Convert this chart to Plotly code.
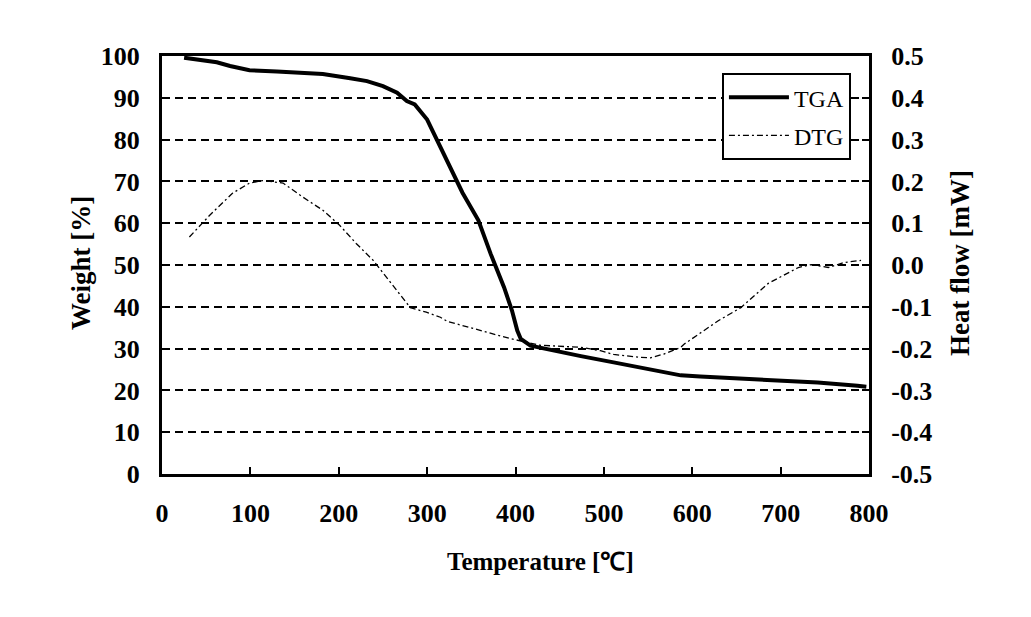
import plotly.graph_objects as go

# ---- data ----
tga_temp = [25, 46, 62, 77, 99, 130, 156, 182, 213, 232, 250, 266, 277, 286, 300, 311,
            326, 340, 358, 372, 387, 396, 402, 406, 417, 443, 474, 511, 550, 587, 609,
            666, 742, 787, 797]
tga_weight = [99.6, 99.0, 98.5, 97.6, 96.6, 96.3, 96.0, 95.7, 94.7, 94.0, 92.8, 91.2,
              89.2, 88.4, 84.8, 80.0, 73.1, 67.3, 60.7, 52.6, 44.7, 39.1, 34.3, 32.3,
              30.7, 29.5, 28.2, 26.7, 25.2, 23.6, 23.3, 22.7, 21.9, 21.1, 20.9]

dtg_temp = [31, 54, 80, 99, 114, 137, 159, 182, 201, 220, 239, 254, 269, 281, 299, 315,
            323, 352, 394, 428, 474, 496, 511, 542, 553, 568, 587, 591, 629, 655, 686,
            720, 735, 754, 772, 791]
dtg_flow = [0.067, 0.119, 0.172, 0.196, 0.202, 0.196, 0.163, 0.131, 0.095, 0.051, 0.011,
            -0.029, -0.069, -0.102, -0.113, -0.125, -0.135, -0.152, -0.176, -0.192,
            -0.197, -0.205, -0.214, -0.221, -0.222, -0.213, -0.197, -0.189, -0.134,
            -0.102, -0.044, -0.006, 0.001, -0.006, 0.006, 0.011]

x_ticks = [0, 100, 200, 300, 400, 500, 600, 700, 800]
y_ticks = [0, 10, 20, 30, 40, 50, 60, 70, 80, 90, 100]
y2_ticks = [-0.5, -0.4, -0.3, -0.2, -0.1, 0.0, 0.1, 0.2, 0.3, 0.4, 0.5]
y2_labels = ["-0.5", "-0.4", "-0.3", "-0.2", "-0.1", "0.0", "0.1", "0.2", "0.3", "0.4", "0.5"]

FONT = "Liberation Serif"
tick_font = dict(family=FONT, size=26, color="black", weight="bold")
ytitle_font = dict(family=FONT, size=27, color="black", weight="bold")
xtitle_font = dict(family=FONT, size=25, color="black", weight="bold")

# page body adds an 8px margin; the figure is sized so that the plot lands
# where it sits in the reference
L, T, PW, PH = 154, 48, 707, 418

fig = go.Figure()
fig.add_trace(go.Scatter(x=tga_temp, y=tga_weight, name="TGA", mode="lines",
                         line=dict(color="black", width=4), legendgroup="a"))
fig.add_trace(go.Scatter(x=dtg_temp, y=dtg_flow, name="DTG", mode="lines", yaxis="y2",
                         line=dict(color="black", width=1.3, dash="6px,3px,2px,3px"),
                         legendgroup="b"))

fig.update_layout(
    width=1015, height=601,
    margin=dict(l=L, r=1015 - L - PW, t=T, b=601 - T - PH),
    paper_bgcolor="white", plot_bgcolor="white",
    showlegend=True,
    legend=dict(x=0.792, y=0.959, xanchor="left", yanchor="top",
                bgcolor="white", bordercolor="black", borderwidth=2,
                font=dict(family=FONT, size=24, color="black"),
                tracegroupgap=4, itemwidth=60),
    xaxis=dict(range=[0, 800], tickvals=x_ticks, ticks="inside", ticklen=7, tickwidth=2,
               tickcolor="black", showline=True, linecolor="black", linewidth=3,
               mirror=True, showgrid=False, zeroline=False, tickfont=tick_font,
               ticklabelstandoff=14),
    yaxis=dict(range=[0, 100], tickvals=y_ticks, ticks="inside", ticklen=7, tickwidth=2,
               tickcolor="black", showline=True, linecolor="black", linewidth=3,
               mirror=True, showgrid=True, gridcolor="black", gridwidth=1.5,
               griddash="8px,5px", zeroline=False, tickfont=tick_font,
               ticklabelstandoff=14),
    yaxis2=dict(range=[-0.5, 0.5], tickvals=y2_ticks, ticktext=y2_labels, overlaying="y",
                side="right", ticks="inside", ticklen=7, tickwidth=2, tickcolor="black",
                showline=True, linecolor="black", linewidth=3, showgrid=False,
                zeroline=False, tickfont=tick_font, ticklabelstandoff=14),
    annotations=[
        dict(text="Temperature [℃]", x=(540 - 162) / PW, xref="paper",
             y=-0.21, yref="paper", showarrow=False, font=xtitle_font,
             xanchor="center", yanchor="middle"),
        dict(text="Weight [%]", x=(81 - 162) / PW, xref="paper", y=0.505, yref="paper",
             showarrow=False, textangle=-90, font=ytitle_font,
             xanchor="center", yanchor="middle"),
        dict(text="Heat flow [mW]", x=(960 - 162) / PW, xref="paper", y=0.505,
             yref="paper", showarrow=False, textangle=-90, font=ytitle_font,
             xanchor="center", yanchor="middle"),
    ],
)

fig.write_html("out.html")
